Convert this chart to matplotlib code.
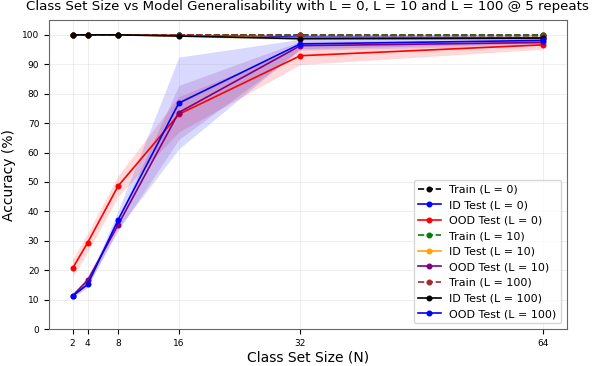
import matplotlib
matplotlib.use("Agg")
import matplotlib.pyplot as plt
import numpy as np

sizes = [2, 4, 8, 16, 32, 64]

train_l0 = [100, 100, 100, 100, 99.9, 99.9]
id_l0 = [100, 100, 100, 99.8, 99.2, 99.0]
ood_l0 = [20.6, 29.4, 48.6, 73.0, 92.9, 96.6]
train_l10 = [100, 100, 100, 100, 99.9, 99.8]
id_l10 = [100, 100, 100, 99.7, 98.9, 98.8]
ood_l10 = [11.3, 16.6, 35.4, 73.6, 96.3, 97.4]
train_l100 = [100, 100, 100, 100, 99.8, 99.7]
id_l100 = [100, 100, 100, 99.6, 98.7, 98.9]
ood_l100 = [11.2, 15.2, 37.1, 76.8, 96.9, 98.1]

# spread (std over repeats)
train_std = [0, 0, 0, 0, 0.1, 0.1]
id_std = [0, 0, 0, 0.2, 0.4, 0.4]
ood_l0_std = [3.0, 3.2, 3.5, 6.0, 3.0, 1.5]
ood_l10_std = [0.6, 1.5, 2.0, 9.2, 1.5, 1.0]
ood_l100_std = [0.6, 1.0, 3.0, 15.6, 1.6, 1.0]

series = [
    ("Train (L = 0)", train_l0, train_std, "black", "--"),
    ("ID Test (L = 0)", id_l0, id_std, "blue", "-"),
    ("OOD Test (L = 0)", ood_l0, ood_l0_std, "red", "-"),
    ("Train (L = 10)", train_l10, train_std, "green", "--"),
    ("ID Test (L = 10)", id_l10, id_std, "orange", "-"),
    ("OOD Test (L = 10)", ood_l10, ood_l10_std, "purple", "-"),
    ("Train (L = 100)", train_l100, train_std, "brown", "--"),
    ("ID Test (L = 100)", id_l100, id_std, "black", "-"),
    ("OOD Test (L = 100)", ood_l100, ood_l100_std, "blue", "-"),
]

fig = plt.figure(figsize=(6.01, 3.66), dpi=100)
ax = fig.add_axes([0.0815, 0.101, 0.8615, 0.844])

for label, vals, std, col, ls in series:
    v = np.array(vals)
    s = np.array(std)
    ax.plot(sizes, v, ls, color=col, marker="o", markersize=3.3, linewidth=1.2, label=label)
    ax.fill_between(sizes, v - s, v + s, color=col, alpha=0.15, linewidth=0)

ax.set_xticks(sizes)
ax.set_yticks(range(0, 101, 10))
ax.set_ylim(0, 105)
ax.tick_params(labelsize=6.5)
ax.grid(True, alpha=0.25, linewidth=0.6)
for sp in ax.spines.values():
    sp.set_color("0.4")
ax.set_xlabel("Class Set Size (N)", fontsize=10, labelpad=2)
ax.set_ylabel("Accuracy (%)", fontsize=10)
ax.set_title("Class Set Size vs Model Generalisability with L = 0, L = 10 and L = 100 @ 5 repeats",
             fontsize=9.6, pad=7)
ax.legend(loc="lower right", fontsize=8)

fig.savefig("out.png", dpi=100)
